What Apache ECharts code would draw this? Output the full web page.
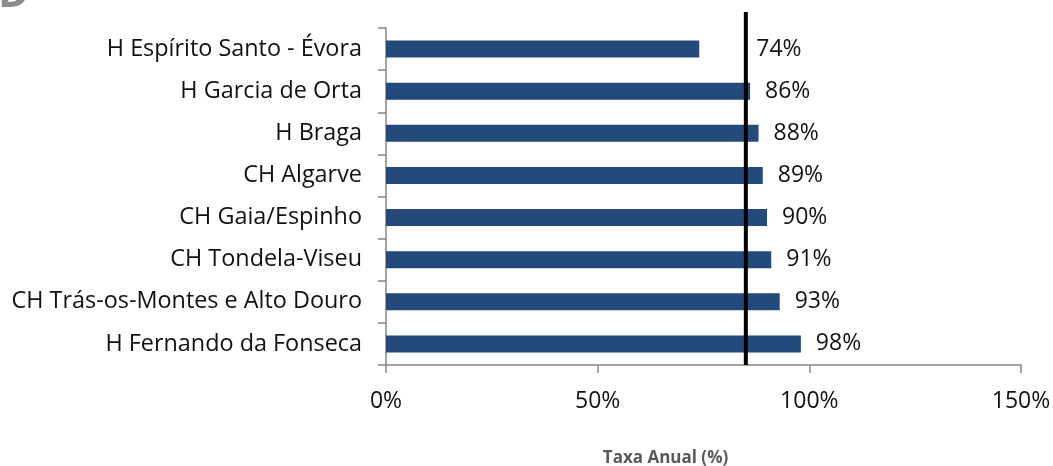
<!DOCTYPE html>
<html><head><meta charset="utf-8">
<script src="https://cdn.jsdelivr.net/npm/echarts@6/dist/echarts.min.js"></script>
<style>html,body{margin:0;padding:0;background:#fff}#c{width:1053px;height:466px}</style>
</head><body><div id="c"></div>
<script>
const categories = ["H Espírito Santo - Évora","H Garcia de Orta","H Braga","CH Algarve","CH Gaia/Espinho","CH Tondela-Viseu","CH Trás-os-Montes e Alto Douro","H Fernando da Fonseca"];
const values = [74, 86, 88, 89, 90, 91, 93, 98];
const referenceLine = 85;
const xTicks = [0, 50, 100, 150];
const axisTitle = "Taxa Anual (%)";

const FONT = "Open Sans";
const chart = echarts.init(document.getElementById('c'), null, {renderer:'canvas'});
chart.setOption({
  animation:false,
  textStyle:{fontFamily:FONT},
  graphic:[{type:'text', left:-2, top:-26, style:{text:'D', fontSize:42, fontWeight:'bold', fill:'#8c8c8c', fontFamily:FONT}}],
  grid:[
    {left:386, right:32, top:28, bottom:101, outerBoundsMode:'none', containLabel:false},
    {left:386, right:32, top:12, bottom:101, outerBoundsMode:'none', containLabel:false}
  ],
  xAxis:[{
    type:'value', min:xTicks[0], max:xTicks[xTicks.length-1], interval:50, gridIndex:0,
    axisLine:{show:true, lineStyle:{color:'#868686', width:1.5}},
    axisTick:{show:true, length:8, lineStyle:{color:'#868686', width:1.5}},
    splitLine:{show:false},
    axisLabel:{formatter:'{value}%', fontSize:23, color:'#111', margin:25, fontFamily:FONT},
    name:axisTitle, nameLocation:'middle', nameGap:85,
    nameTextStyle:{fontSize:17, fontWeight:'bold', color:'#595959', fontFamily:FONT, padding:[0,76,0,0]}
  },{
    type:'value', min:xTicks[0], max:xTicks[xTicks.length-1], gridIndex:1, show:false
  }],
  yAxis:[{
    type:'category', data:categories, inverse:true, gridIndex:0,
    axisLine:{show:true, lineStyle:{color:'#868686', width:1.5}},
    axisTick:{show:true, length:8, lineStyle:{color:'#868686', width:1.5}},
    axisLabel:{fontSize:23.4, color:'#111', margin:24, fontFamily:FONT}
  },{
    type:'value', min:0, max:1, gridIndex:1, show:false
  }],
  series:[{
    type:'bar', xAxisIndex:0, yAxisIndex:0, barWidth:17,
    itemStyle:{color:'#24497b'},
    data: values.map((v,i)=>({value:v, label: i===0 ? {distance:57} : undefined})),
    label:{show:true, position:'right', distance:15, formatter:'{c}%', fontSize:23, color:'#111', fontFamily:FONT}
  },{
    type:'line', xAxisIndex:1, yAxisIndex:1, symbol:'none',
    lineStyle:{color:'#000', width:4},
    data:[[referenceLine,0],[referenceLine,1]], z:5
  }]
});
</script></body></html>
